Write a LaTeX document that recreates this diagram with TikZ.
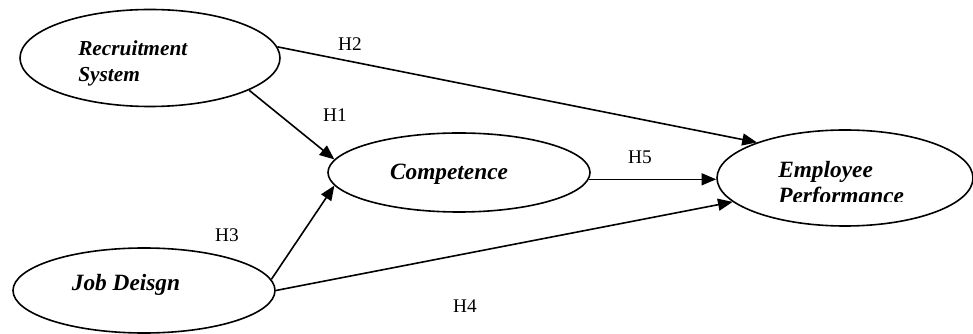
\documentclass[tikz,border=0pt]{standalone}
\usepackage{fontspec}
\setmainfont{Liberation Serif}
\usetikzlibrary{shapes.geometric,arrows.meta,positioning}

\begin{document}
\begin{tikzpicture}[x=0.75pt, y=-0.75pt,
    var/.style={ellipse, draw, line width=1.2pt, inner sep=0pt},
    vartext/.style={font=\fontsize{17.5}{19.5}\selectfont\bfseries\itshape, align=left, inner sep=0pt},
    hyp/.style={font=\fontsize{14.5}{17}\selectfont, inner sep=0pt},
    link/.style={-{Triangle[length=11pt,width=9pt]}, line width=1.2pt}]
    \useasboundingbox (0,0) rectangle (973,334);

    % Latent variables
    \node[var, minimum width=195pt, minimum height=72.75pt] (rs) at (150,58) {};
    \node[var, minimum width=196.5pt, minimum height=59.25pt] (comp) at (459,172.5) {};
    \node[var, minimum width=192pt, minimum height=72pt] (ep) at (845,178) {};
    \node[var, minimum width=196.5pt, minimum height=63.75pt] (jd) at (144,290.5) {};

    % Variable names
    \node[vartext, font=\fontsize{16}{20}\selectfont\bfseries\itshape, anchor=base west] (rs-text) at (78,82) {Recruitment\\System};
    \node[vartext, anchor=base] (comp-text) at (449,180) {Competence};
    \node[vartext, anchor=base] (jd-text) at (126,291) {Job Deisgn};
    \begin{scope}
        \clip (700,140) rectangle (973,201.5);
        \node[vartext, anchor=base west] (ep-text) at (778,204) {Employee\\Performance};
    \end{scope}

    % Hypothesised paths
    \draw[link] (rs.5) -- (ep.158);
    \draw[link] (rs.-18) -- (comp.174);
    \draw[link] (comp.-3) -- (comp.-3 -| ep.west);
    \draw[link] (jd.5) -- (comp.186);
    \draw[link] (jd.east) -- (ep.192);

    % Hypothesis labels
    \node[hyp] (h2) at (350,44) {H2};
    \node[hyp] (h1) at (335,115) {H1};
    \node[hyp] (h5) at (640,157) {H5};
    \node[hyp] (h3) at (227,235) {H3};
    \node[hyp] (h4) at (465,306) {H4};
\end{tikzpicture}
\end{document}
